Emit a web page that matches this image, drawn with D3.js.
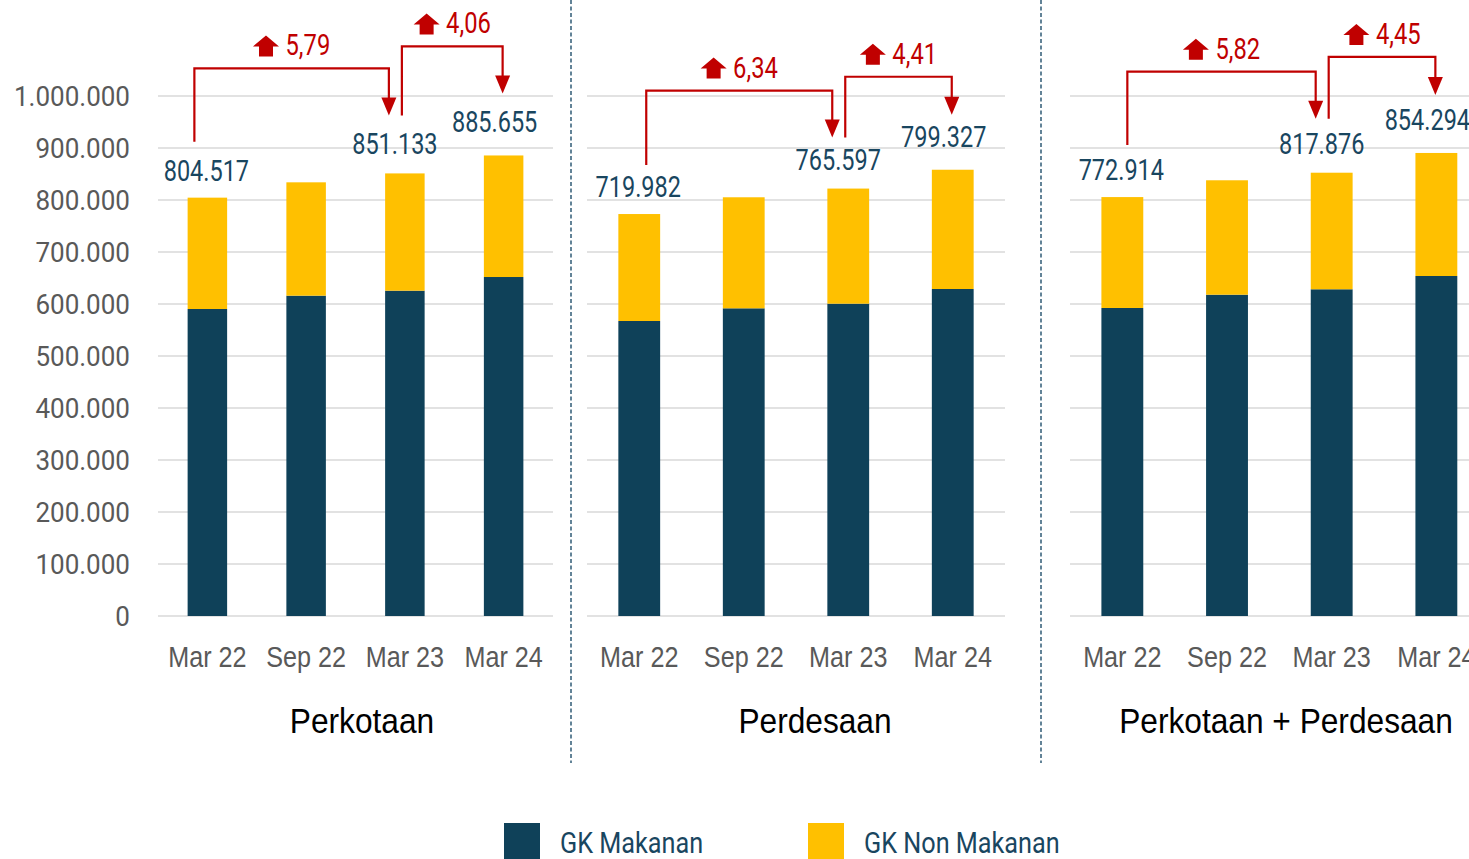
<!DOCTYPE html>
<html>
<head>
<meta charset="utf-8">
<script src="https://cdnjs.cloudflare.com/ajax/libs/d3/7.8.5/d3.min.js"></script>
<style>
  html, body { margin: 0; padding: 0; background: #ffffff; overflow: hidden; }
  svg { display: block; }
</style>
</head>
<body>
<svg id="chart" width="1469" height="859"></svg>
<script>
// ---- Data: Garis Kemiskinan (Rp/rumah tangga/bulan) ----
const periods = ["Mar 22", "Sep 22", "Mar 23", "Mar 24"];
const panelNames = ["Perkotaan", "Perdesaan", "Perkotaan + Perdesaan"];
const seriesNames = ["GK Makanan", "GK Non Makanan"];

const totalUrban = [804517, 834000, 851133, 885655];
const foodUrban  = [590400, 616000, 625600, 651900];

const totalRural = [719982, 750000, 765597, 799327];
const foodRural  = [528400, 551100, 559400, 585700];

const totalAll = [772914, 803900, 817876, 854294];
const foodAll  = [568300, 592800, 602800, 627300];

// growth (%) Mar 22 -> Mar 23 and Mar 23 -> Mar 24
const growthUrban = [5.79, 4.06];
const growthRural = [6.34, 4.41];
const growthAll   = [5.82, 4.45];

// indices of labelled bars
const labelled = [0, 2, 3];

const yTicks = [0, 100000, 200000, 300000, 400000, 500000, 600000, 700000, 800000, 900000, 1000000];

// ---- Styling ----
const C = {
  food: "#0f4159",
  nonfood: "#ffc000",
  value: "#19465f",
  red: "#c00000",
  grid: "#d9d9d9",
  axis: "#595959",
  divider: "#2f5b75",
  title: "#000000"
};
const NARROW = "'Liberation Sans', Arial, sans-serif";
const COND = "Roboto, 'Noto Sans', sans-serif";

const locale = d3.formatLocale({ decimal: ",", thousands: ".", grouping: [3], currency: ["Rp", ""] });
const fmtInt = locale.format(",d");
const fmtPct = locale.format(".2f");

const panels = [
  { name: panelNames[0], total: totalUrban, food: foodUrban, growth: growthUrban },
  { name: panelNames[1], total: totalRural, food: foodRural, growth: growthRural },
  { name: panelNames[2], total: totalAll,   food: foodAll,   growth: growthAll }
];

// per-panel geometry
const layout = [
  { x0: 158,  x1: 553,    yMax: 1000000, titleX: 362,  startDx: -13, dy: -1, rise2: 47, axis: true },
  { x0: 587,  x1: 1005,   yMax: 931400,  titleX: 815,  startDx: 7,   dy: 6,  rise2: 38, axis: false },
  { x0: 1070, x1: 1488.7, yMax: 959400,  titleX: 1286, startDx: 5,   dy: 3,  rise2: 38, axis: false }
];
const plotBottom = 616, plotTop = 96;
const labelGap = { 0: 17, 2: 19, 3: 23 };
const labelDx  = { 0: -1, 2: -10, 3: -9 };

const svg = d3.select("#chart");

function label(parent, x, y, str, o) {
  return parent.append("text")
    .attr("transform", `translate(${x},${y}) scale(${o.sx || 1},1)`)
    .attr("text-anchor", o.anchor || "middle")
    .attr("font-family", o.family)
    .attr("font-size", o.size)
    .attr("font-weight", o.weight || 400)
    .attr("fill", o.fill)
    .text(str);
}

// dashed separators between the panels
[571, 1041].forEach(x => {
  svg.append("line")
    .attr("x1", x).attr("x2", x).attr("y1", 0).attr("y2", 763)
    .attr("stroke", C.divider).attr("stroke-width", 1.5)
    .attr("stroke-dasharray", "4,2.5");
});

panels.forEach((p, pi) => {
  const L = layout[pi];
  const g = svg.append("g");

  const x = d3.scaleBand().domain(periods).range([L.x0, L.x1])
    .paddingInner(0.6).paddingOuter(0.3);
  const y = d3.scaleLinear().domain([0, L.yMax]).range([plotBottom, plotTop]);
  const cx = i => x(periods[i]) + x.bandwidth() / 2;

  // gridlines: ten equal steps of the panel's value range
  const gridVals = d3.range(11).map(k => k * L.yMax / 10);
  g.append("g").selectAll("line").data(gridVals).join("line")
    .attr("x1", L.x0).attr("x2", L.x1)
    .attr("y1", d => y(d)).attr("y2", d => y(d))
    .attr("stroke", C.grid).attr("stroke-width", 1.5);

  // value axis (first panel only)
  if (L.axis) {
    const ax = g.append("g").attr("transform", `translate(${L.x0},0)`)
      .call(d3.axisLeft(y).tickValues(yTicks).tickFormat(fmtInt).tickSize(0).tickPadding(28));
    ax.select(".domain").remove();
    ax.selectAll("text")
      .attr("font-family", COND).attr("font-size", 28).attr("fill", C.axis)
      .attr("dy", "0.35em")
      .each(function () {
        const t = d3.select(this);
        const tx = +t.attr("x");
        t.attr("x", null).attr("transform", `translate(${tx},0) scale(0.93,1)`);
      });
  }

  // stacked bars
  const rows = periods.map((per, i) => ({ per, food: p.food[i], non: p.total[i] - p.food[i], total: p.total[i] }));
  const stack = d3.stack().keys(["food", "non"])(rows);
  const colors = [C.food, C.nonfood];
  stack.forEach((layer, li) => {
    g.append("g").selectAll("rect").data(layer).join("rect")
      .attr("x", d => x(d.data.per))
      .attr("width", x.bandwidth())
      .attr("y", d => y(d[1]))
      .attr("height", d => y(d[0]) - y(d[1]))
      .attr("fill", colors[li]);
  });

  // category labels
  periods.forEach((per, i) => {
    label(g, cx(i), 666.5, per, { family: NARROW, size: 30, sx: 0.84, fill: C.axis });
  });

  // panel title
  label(g, L.titleX, 733, p.name, { family: NARROW, size: 36, sx: 0.88, fill: C.title });

  // value labels above bars
  labelled.forEach(i => {
    label(g, cx(i) + labelDx[i], y(p.total[i]) - labelGap[i], fmtInt(p.total[i]),
      { family: COND, size: 29, sx: 0.81, fill: C.value });
  });

  // growth brackets
  const tip1 = y(p.total[2]) - 57 + L.dy;
  const tip2 = y(p.total[3]) - 61 + L.dy;
  const brackets = [
    { sx: cx(0) + L.startDx, sy: y(p.total[0]) - 55 + L.dy, ex: cx(2) - 16, tip: tip1, hy: tip1 - 47 },
    { sx: cx(2) - 3, sy: tip1, ex: cx(3) - 1, tip: tip2, hy: tip2 - L.rise2 }
  ];
  brackets.forEach((b, k) => {
    const head = 18, hw = 7.5;
    g.append("path")
      .attr("d", `M${b.sx},${b.sy}V${b.hy}H${b.ex}V${b.tip - head + 1}`)
      .attr("fill", "none").attr("stroke", C.red).attr("stroke-width", 2.2);
    g.append("path")
      .attr("d", `M${b.ex - hw},${b.tip - head}L${b.ex + hw},${b.tip - head}L${b.ex},${b.tip}Z`)
      .attr("fill", C.red);

    // growth label: block up-arrow + percentage
    const base = b.hy - 13;
    const mid = (b.sx + b.ex) / 2;
    const t = label(g, 0, base, fmtPct(p.growth[k]), { family: COND, size: 29, sx: 0.82, fill: C.red, anchor: "start" });
    const tw = t.node().getComputedTextLength() * 0.82;
    const iconW = 26, gap = 6.5;
    const left = mid - (iconW + gap + tw) / 2;
    t.attr("transform", `translate(${left + iconW + gap},${base}) scale(0.82,1)`);
    const bt = base + 1;
    g.append("path")
      .attr("d", `M${left},${bt - 10}L${left + 13},${bt - 21}L${left + 26},${bt - 10}H${left + 20}V${bt}H${left + 6}V${bt - 10}Z`)
      .attr("fill", C.red);
  });
});

// legend
const legend = svg.append("g");
const legendItems = [
  { name: seriesNames[0], color: C.food, sq: 504, tx: 560 },
  { name: seriesNames[1], color: C.nonfood, sq: 808, tx: 864 }
];
legendItems.forEach(it => {
  legend.append("rect").attr("x", it.sq).attr("y", 823).attr("width", 36).attr("height", 36).attr("fill", it.color);
  label(legend, it.tx, 852.5, it.name, { family: COND, size: 29, sx: 0.87, fill: C.value, anchor: "start" });
});
</script>
</body>
</html>
